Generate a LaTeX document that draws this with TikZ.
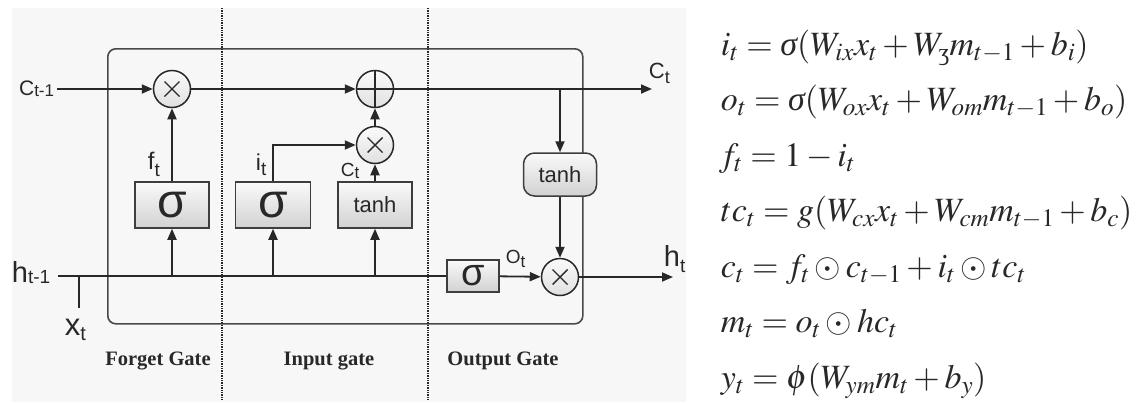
\documentclass[tikz,border=0pt]{standalone}
\usepackage{mathptmx}
\usepackage[no-math]{fontspec}
\setsansfont{Liberation Sans}
\newfontfamily\gatefont{Liberation Serif}
\newfontfamily\ezhfont{Liberation Serif}
\usetikzlibrary{arrows.meta}
\newcommand\fsz[2]{{\fontsize{#1}{#1}\selectfont #2}}
\newcommand\isig{\mbox{\gatefont\itshape σ}}
\definecolor{panel}{RGB}{247,247,247}
\definecolor{ink}{RGB}{40,40,40}
\begin{document}
\begin{tikzpicture}[x=1pt,y=-1pt,
  line width=1.8pt,
  arr/.style={-{Triangle[length=11pt,width=9pt]}, draw=ink},
  wire/.style={draw=ink},
  gatebox/.style={draw=ink!90, line width=1.5pt, top color=gray!4, bottom color=gray!36, inner sep=0pt, font=\sffamily, text=ink},
  op/.style={circle, draw=ink, line width=1.5pt, minimum size=37pt, inner sep=0pt, top color=gray!4, bottom color=gray!24},
  optimes/.style={op, path picture={
     \draw[ink, line width=1.4pt] ([shift={(-7.5pt,-7.5pt)}]path picture bounding box.center) -- ([shift={(7.5pt,7.5pt)}]path picture bounding box.center);
     \draw[ink, line width=1.4pt] ([shift={(-7.5pt,7.5pt)}]path picture bounding box.center) -- ([shift={(7.5pt,-7.5pt)}]path picture bounding box.center);}},
  opplus/.style={op, path picture={
     \draw[ink, line width=1.5pt] ([shift={(-20pt,0pt)}]path picture bounding box.center) -- ([shift={(20pt,0pt)}]path picture bounding box.center);
     \draw[ink, line width=1.5pt] ([shift={(0pt,-20pt)}]path picture bounding box.center) -- ([shift={(0pt,20pt)}]path picture bounding box.center);}},
  lbl/.style={inner sep=0pt, font=\sffamily, text=ink},
  gatelab/.style={inner sep=0pt, anchor=base, font=\gatefont\bfseries\fontsize{20.5}{20.5}\selectfont, text=ink},
  eqn/.style={inner sep=0pt, anchor=base west, font=\fontsize{34}{34}\selectfont, text=ink}
]
\useasboundingbox (0,0) rectangle (1147,402);
\fill[panel] (12,8) rectangle (686,402);

% cell border
\node[draw=ink!85, line width=1.6pt, rounded corners=8pt, minimum width=475pt, minimum height=275pt, anchor=north west, inner sep=0pt] (cell) at (107,48) {};

% gate separators
\coordinate (s1a) at (222,8); \coordinate (s1b) at (222,400);
\coordinate (s2a) at (428,8); \coordinate (s2b) at (428,400);
\draw[densely dotted, line width=1.4pt, ink] (s1a) -- (s1b);
\draw[densely dotted, line width=1.4pt, ink] (s2a) -- (s2b);

% operators
\node[optimes] (m1) at (172,89) {};
\node[opplus]  (pl) at (375,89) {};
\node[optimes] (m2) at (375,145) {};
\node[optimes] (m3) at (560,277) {};

% boxes
\node[gatebox, minimum width=74pt, minimum height=46pt, font=\sffamily\fontsize{48}{48}\selectfont] (fs) at (172,205) {σ};
\node[gatebox, minimum width=75pt, minimum height=46pt, font=\sffamily\fontsize{48}{48}\selectfont] (is) at (273,205) {σ};
\node[gatebox, minimum width=74pt, minimum height=46pt, font=\sffamily\fontsize{22}{22}\selectfont] (ts) at (375,205) {tanh};
\node[gatebox, minimum width=52pt, minimum height=32pt, font=\sffamily\fontsize{38}{38}\selectfont] (os) at (473,276) {σ};
\node[gatebox, rounded corners=11pt, minimum width=73pt, minimum height=43pt, font=\sffamily\fontsize{22}{22}\selectfont] (to) at (560,174.5) {tanh};

% free ends
\coordinate (cin) at (57,89);
\coordinate (cout) at (652,89);
\coordinate (hin) at (58,276);
\coordinate (hout) at (673,277);
\coordinate (xj) at (79,276);
\coordinate (xe) at (79,308);

% cell state line
\draw[arr] (cin) -- (m1);
\draw[arr] (m1) -- (pl);
\draw[arr] (pl) -- (cout);
\draw[arr] (fs) -- (m1);
\draw[arr] (ts) -- (m2);
\draw[arr] (m2) -- (pl);
\draw[arr] (is.north) |- (m2.west);
\draw[arr] (pl -| to.north) -- (to.north);
\draw[arr] (to) -- (m3);

% hidden state line
\draw[wire] (hin) -- (os.west);
\draw[wire] (xj) -- (xe);
\draw[arr] (fs |- hin) -- (fs);
\draw[arr] (is |- hin) -- (is);
\draw[arr] (ts |- hin) -- (ts);
\draw[arr] (os) -- (m3);
\draw[arr] (m3) -- (hout);

% labels
\node[lbl, anchor=base east] (lcp) at (55,95) {\fsz{21}{C}\fsz{17}{\raisebox{-1pt}{t-1}}};
\node[lbl, anchor=base west] (lhp) at (11,282) {\fsz{29}{h}\fsz{19}{\raisebox{-1pt}{t-1}}};
\node[lbl, anchor=base west] (lx) at (64,335) {\fsz{31}{x}\fsz{20}{\raisebox{-5pt}{t}}};
\node[lbl, anchor=base west] (lf) at (147,169) {\fsz{24}{f}\fsz{19}{\raisebox{-7pt}{t}}};
\node[lbl, anchor=base west] (li) at (255,170) {\fsz{23}{i}\fsz{19}{\raisebox{-5pt}{t}}};
\node[lbl, anchor=base west] (lc) at (340,176) {\fsz{19}{C}\fsz{17}{\raisebox{-2pt}{t}}};
\node[lbl, anchor=base west] (lo) at (505,263) {\fsz{19}{O}\fsz{17}{\raisebox{-4pt}{t}}};
\node[lbl, anchor=base west] (lct) at (648,78) {\fsz{22}{C}\fsz{18}{\raisebox{-5pt}{t}}};
\node[lbl, anchor=base west] (lht) at (663,266) {\fsz{29}{h}\fsz{19}{\raisebox{-6pt}{t}}};

% gate names
\node[gatelab] (gf) at (158,365) {Forget Gate};
\node[gatelab] (gi) at (329,365) {Input gate};
\node[gatelab] (go) at (503,365) {Output Gate};

% equations
\node[eqn] (e1) at (720,55) {$i_t = \isig(W_{ix}x_t + W_{\hbox{\ezhfont\fontsize{24}{24}\selectfont ʒ}}m_{t-1} + b_i)$};
\node[eqn] (e2) at (720,110.5) {$o_t = \isig(W_{ox}x_t + W_{om}m_{t-1} + b_o)$};
\node[eqn] (e3) at (718,166) {$f_t = 1 - i_t$};
\node[eqn] (e4) at (720,221.5) {$tc_t = g(W_{cx}x_t + W_{cm}m_{t-1} + b_c)$};
\node[eqn] (e5) at (720,277) {$c_t = f_t \odot c_{t-1} + i_t \odot tc_t$};
\node[eqn] (e6) at (720,332.5) {$m_t = o_t \odot hc_t$};
\node[eqn] (e7) at (720,388) {$y_t = \phi(W_{ym}m_t + b_y)$};
\end{tikzpicture}
\end{document}
